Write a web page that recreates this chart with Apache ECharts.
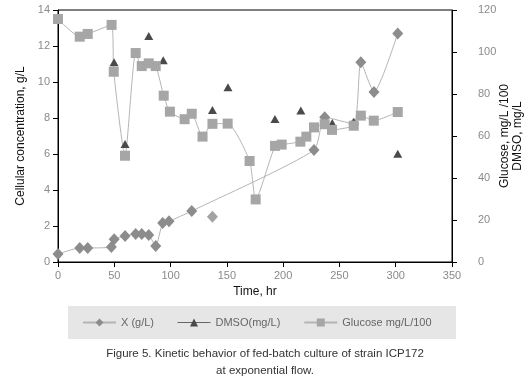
<!DOCTYPE html>
<html>
<head>
<meta charset="utf-8">
<script src="https://cdn.jsdelivr.net/npm/echarts@6/dist/echarts.min.js"></script>
<style>
	html, body { margin: 0; padding: 0; background: #fff; }
	#chart { width: 530px; height: 381px; }
</style>
</head>
<body>
<div id="chart"></div>
<script>
	// X (g/L) - points joined by the line
	const xTime = [0, 19.3, 26.4, 47.4, 49.9, 59.6, 69, 74.4, 80.6, 86.8, 93, 98.6, 118.8, 227.4, 236.9, 262.7, 269, 280.7, 301.8]
	const xConc = [0.44, 0.78, 0.78, 0.83, 1.26, 1.44, 1.56, 1.56, 1.5, 0.89, 2.17, 2.26, 2.83, 6.22, 8.04, 7.67, 11.1, 9.44, 12.7]
	// X point that the line does not pass through
	const xLoneTime = [137.2]
	const xLoneConc = [2.52]
	// DMSO (mg/L), markers only
	const dmsoTime = [49.8, 59.6, 80.6, 93.5, 137.2, 151, 192.7, 215.7, 243.6, 262.7, 301.8]
	const dmsoVal = [95.1, 56.2, 107.6, 96.1, 72.4, 83.2, 68.1, 72.2, 66.2, 66.7, 51.6]
	// Glucose mg/L /100
	const glcTime = [0, 19.3, 26.4, 47.6, 49.5, 59.5, 69, 74.4, 80.6, 86.8, 93.9, 99.4, 112.5, 118.8, 128.4, 137.2, 150.7, 170.2, 175.6, 192.8, 198.7, 215.3, 220.6, 227.4, 236.9, 243.4, 262.7, 269, 280.5, 301.8]
	const glcVal = [115.7, 107.3, 108.6, 112.9, 90.6, 50.6, 99.5, 93.3, 94.6, 93.3, 79.2, 71.6, 68, 70.6, 59.7, 65.8, 65.9, 48.1, 29.8, 55.3, 55.9, 57.3, 59.7, 64.1, 65.6, 62.9, 64.9, 69.7, 67.3, 71.4]

	const zip = (a, b) => a.map((v, i) => [v, b[i]])

	const myChart = echarts.init(document.getElementById('chart'))
	const tickLabel = { color: '#8a8a8a', fontSize: 11, fontFamily: 'Liberation Sans' }
	const axisName = { color: '#111', fontSize: 12, fontFamily: 'Liberation Sans' }
	const captionStyle = { fontSize: 11.5, fill: '#333', fontFamily: 'Liberation Sans' }
	const option = {
		animation: false,
		textStyle: { fontFamily: 'Liberation Sans' },
		grid: {
			left: 58, right: 78, top: 10, bottom: 119,
			outerBoundsMode: 'none', containLabel: false,
			show: true, borderColor: '#000', borderWidth: 1
		},
		graphic: [{
			type: 'rect', left: 68, top: 306, z: 0,
			shape: { width: 388, height: 33 },
			style: { fill: '#e6e6e6' }
		}, {
			// caption under the chart
			type: 'text', left: 'center', top: 348,
			style: Object.assign({ text: 'Figure 5. Kinetic behavior of fed-batch culture of strain ICP172' }, captionStyle)
		}, {
			type: 'text', left: 'center', top: 365,
			style: Object.assign({ text: 'at exponential flow.' }, captionStyle)
		}],
		legend: {
			z: 10,
			top: 317,
			left: 82,
			padding: 0,
			itemWidth: 33,
			itemHeight: 10,
			itemGap: 23,
			textStyle: { color: '#666', fontSize: 11, fontFamily: 'Liberation Sans' },
			data: [
				{ name: 'X (g/L)' },
				{ name: 'DMSO(mg/L)', lineStyle: { opacity: 1, color: '#666', width: 1 } },
				{ name: 'Glucose mg/L/100' }
			]
		},
		xAxis: {
			type: 'value', min: 0, max: 350, interval: 50,
			name: 'Time, hr', nameLocation: 'middle', nameGap: 24, nameTextStyle: axisName,
			axisLine: { lineStyle: { color: '#000' } },
			axisTick: { length: 5, lineStyle: { color: '#000' } },
			axisLabel: Object.assign({ margin: 8 }, tickLabel),
			splitLine: { show: false }
		},
		yAxis: [{
			type: 'value', min: 0, max: 14, interval: 2, position: 'left',
			name: 'Cellular concentration, g/L', nameLocation: 'middle', nameGap: 28, nameTextStyle: axisName,
			axisLine: { show: true, lineStyle: { color: '#000' } },
			axisTick: { show: true, length: 5, lineStyle: { color: '#000' } },
			axisLabel: Object.assign({ margin: 8 }, tickLabel),
			splitLine: { show: false }
		}, {
			type: 'value', min: 0, max: 120, interval: 20, position: 'right',
			name: 'Glucose, mg/L /100\nDMSO, mg/L', nameLocation: 'middle', nameGap: 46,
			nameMoveOverlap: false,
			nameTextStyle: Object.assign({ lineHeight: 13 }, axisName),
			axisLine: { show: true, lineStyle: { color: '#000' } },
			axisTick: { show: true, length: 5, lineStyle: { color: '#000' } },
			axisLabel: Object.assign({ margin: 26 }, tickLabel),
			splitLine: { show: false }
		}],
		series: [{
			name: 'X (g/L)',
			type: 'line',
			yAxisIndex: 0,
			smooth: 0.2,
			symbol: 'diamond',
			symbolSize: [11, 12],
			itemStyle: { color: '#8c8c8c' },
			lineStyle: { color: '#b4b4b4', width: 1 },
			data: zip(xTime, xConc)
		}, {
			name: 'X (g/L)',
			type: 'scatter',
			yAxisIndex: 0,
			symbol: 'diamond',
			symbolSize: [11, 12],
			itemStyle: { color: '#8c8c8c' },
			data: zip(xLoneTime, xLoneConc)
		}, {
			name: 'DMSO(mg/L)',
			type: 'line',
			yAxisIndex: 1,
			symbol: 'triangle',
			symbolSize: [9, 8],
			itemStyle: { color: '#4a4a4a' },
			lineStyle: { opacity: 0 },
			data: zip(dmsoTime, dmsoVal)
		}, {
			name: 'Glucose mg/L/100',
			type: 'line',
			yAxisIndex: 1,
			smooth: 0.2,
			symbol: 'rect',
			symbolSize: 10,
			itemStyle: { color: '#a6a6a6' },
			lineStyle: { color: '#b4b4b4', width: 1 },
			data: zip(glcTime, glcVal)
		}]
	}
	myChart.setOption(option)
</script>
</body>
</html>
